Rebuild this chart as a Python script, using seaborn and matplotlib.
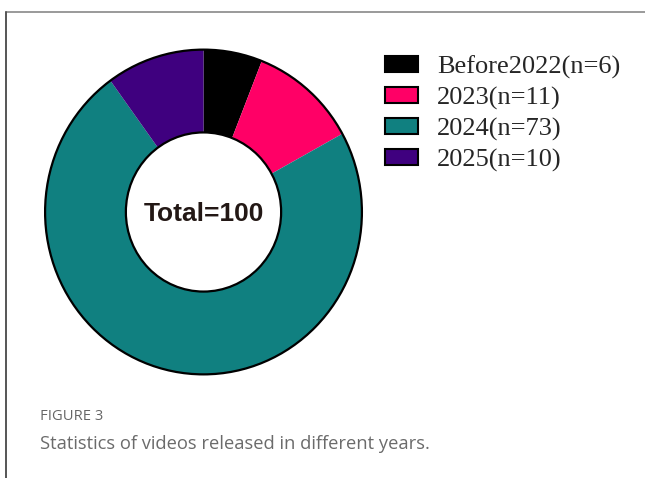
import matplotlib
matplotlib.use("Agg")
import matplotlib.pyplot as plt
from matplotlib.patches import Patch, Ellipse
from matplotlib.lines import Line2D
import seaborn as sns

# Videos released per year
categories = ["Before2022", "2023", "2024", "2025"]
counts = [6, 11, 73, 10]
colors = ["#000000", "#FF0066", "#108080", "#3F007F"]

sns.set_theme(style="white")
palette = sns.color_palette(colors)

W, H = 645, 478
fig = plt.figure(figsize=(W / 100, H / 100), dpi=100)
fig.patch.set_facecolor("white")

# Frame lines (top and left)
fig.add_artist(Line2D([6 / W, 1.0], [1 - 12 / H, 1 - 12 / H], color="#9a9a9a", lw=1.4,
                      transform=fig.transFigure))
fig.add_artist(Line2D([6 / W, 6 / W], [0.0, 1 - 12 / H], color="#555555", lw=1.4,
                      transform=fig.transFigure))

# Donut axes
cx, cy, rx, ry = 203.5, 212, 160, 164
ax = fig.add_axes([(cx - rx) / W, (H - cy - ry) / H, 2 * rx / W, 2 * ry / H])
inner = 0.49
ax.pie(counts, colors=palette, startangle=90, counterclock=False, radius=1,
       wedgeprops=dict(width=1 - inner, edgecolor="none", linewidth=0))
ax.set_aspect("auto")
ax.set_xlim(-1.01, 1.01)
ax.set_ylim(-1.01, 1.01)
ax.axis("off")
for r in (1.0, inner):
    ax.add_patch(Ellipse((0, 0), 2 * r, 2 * r, fill=False, edgecolor="black", lw=1.6))

total = sum(counts)
ax.text(0, -0.015, f"Total={total}", ha="center", va="center", fontsize=19,
        fontweight="bold", family="Liberation Sans", color="#231815")

# Legend
labels = [f"{c}(n={n})" for c, n in zip(categories, counts)]
handles = [Patch(facecolor=c, edgecolor="black", lw=1.5) for c in palette]
fig.legend(handles, labels, loc="upper left", bbox_to_anchor=(380 / W, 1 - 50 / H),
           frameon=False, prop=dict(family="Liberation Serif", size=19),
           handlelength=1.25, handleheight=0.6, handletextpad=0.7,
           labelspacing=0.3, borderpad=0.2, borderaxespad=0)

# Caption
fig.text(40 / W, 1 - 420 / H, "FIGURE 3", fontsize=10.6, color="#666666",
         family="Open Sans", va="baseline")
fig.text(40 / W, 1 - 449 / H, "Statistics of videos released in different years.",
         fontsize=13.2, color="#6b6b6b", family="Open Sans", va="baseline")

fig.savefig("out.png", dpi=100, facecolor="white")
